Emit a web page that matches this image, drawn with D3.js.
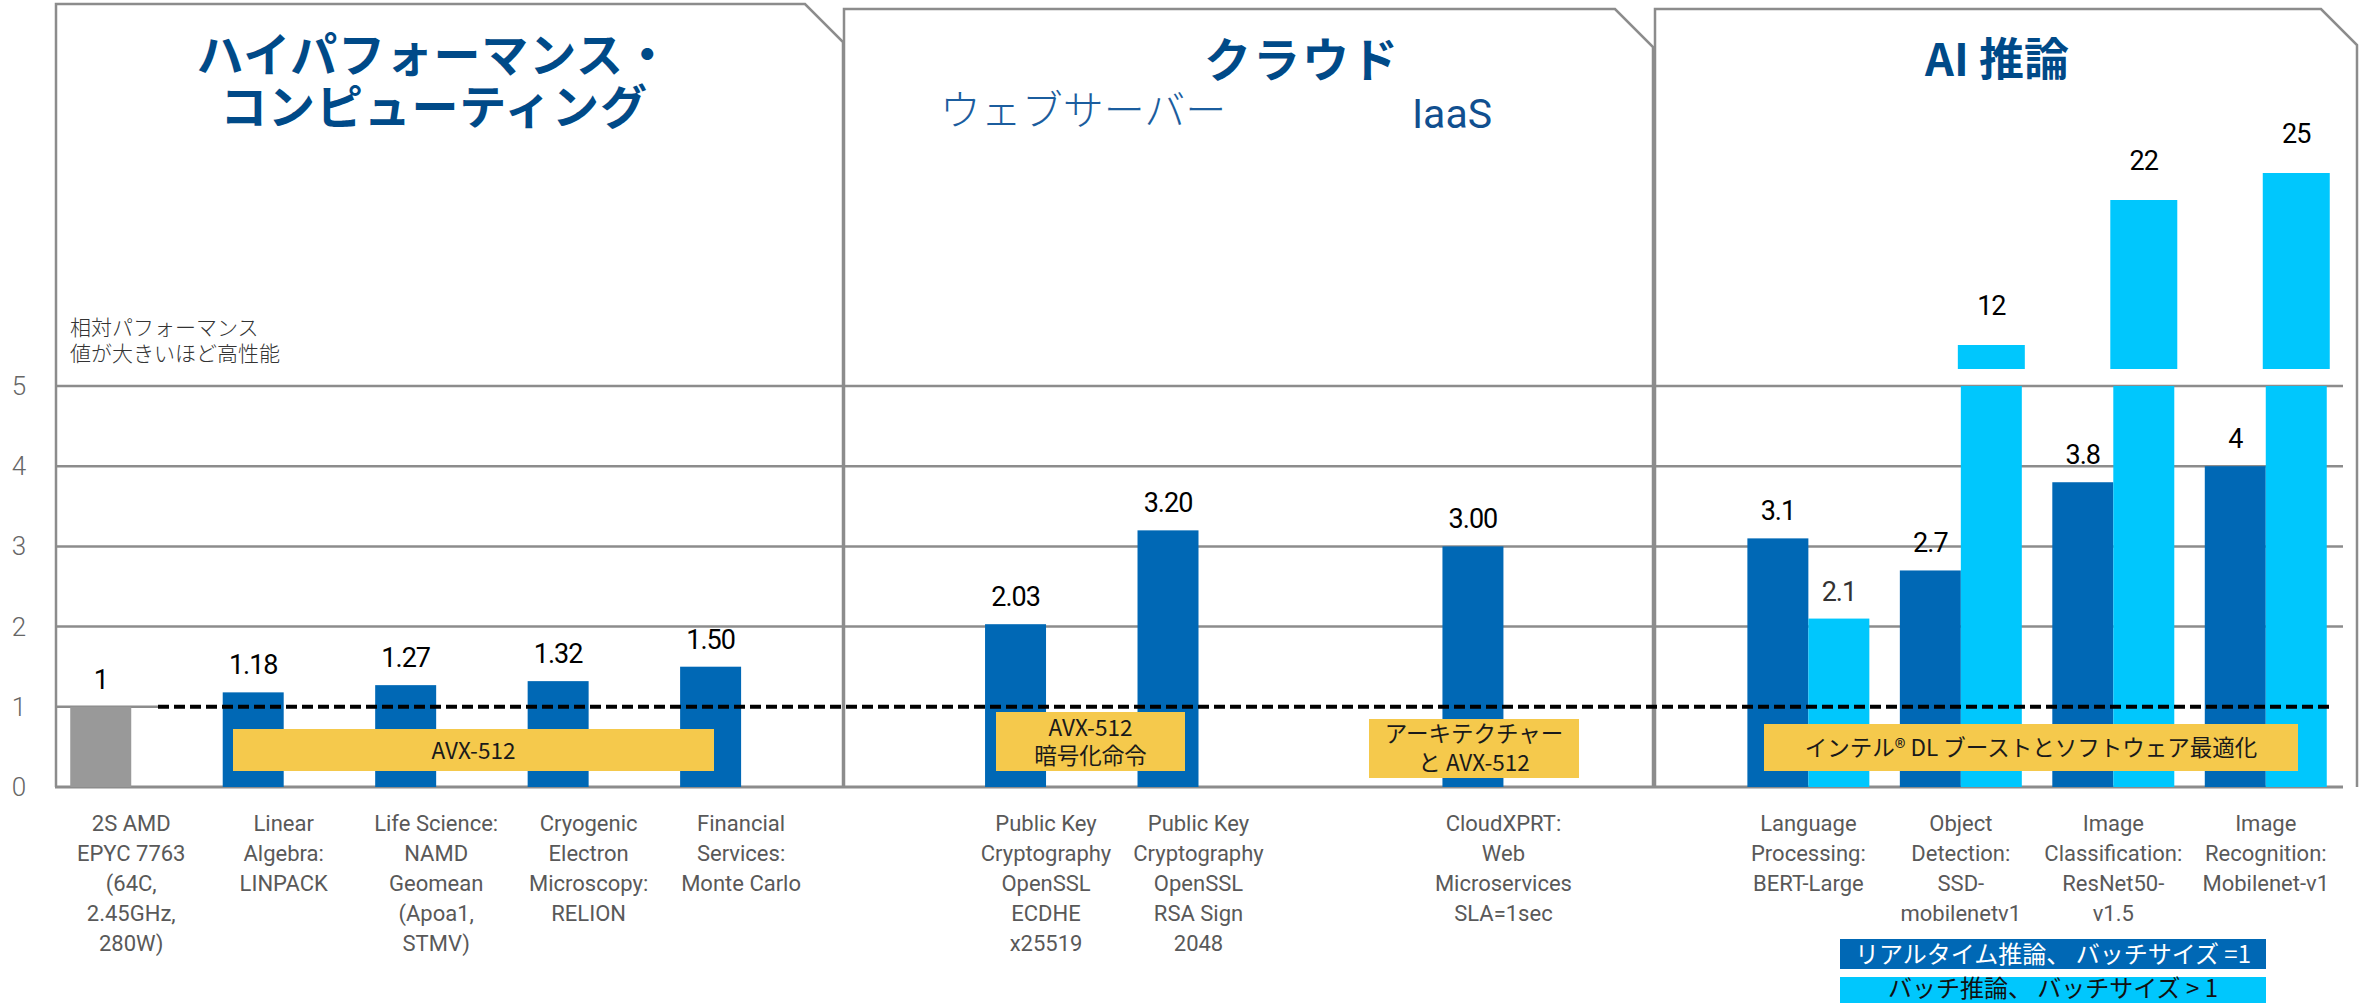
<!DOCTYPE html>
<html>
<head>
<meta charset="utf-8">
<script src="https://cdn.jsdelivr.net/npm/d3@7/dist/d3.min.js"></script>
<style>
    html, body { margin: 0; padding: 0; background: #fff; }
    svg { display: block; }
    text { font-family: Roboto, "Noto Sans CJK JP", sans-serif; }
    .jp { font-family: "Noto Sans CJK JP", Roboto, sans-serif; }
</style>
</head>
<body>
<svg id="chart"></svg>
<script>
// ---- data ----
// x slots (blank slots are the spacing the original chart keeps between groups)
const slots = ["amd", "linpack", "namd", "relion", "montecarlo", "gap1",
    "ecdhe", "rsa", "gap2", "cloudxprt", "gap3",
    "bert", "ssd", "resnet", "mobilenet"];

const categoryLabels = [
    ["2S AMD", "EPYC 7763", "(64C,", "2.45GHz,", "280W)"],
    ["Linear", "Algebra:", "LINPACK"],
    ["Life Science:", "NAMD", "Geomean", "(Apoa1,", "STMV)"],
    ["Cryogenic", "Electron", "Microscopy:", "RELION"],
    ["Financial", "Services:", "Monte Carlo"],
    [],
    ["Public Key", "Cryptography", "OpenSSL", "ECDHE", "x25519"],
    ["Public Key", "Cryptography", "OpenSSL", "RSA Sign", "2048"],
    [],
    ["CloudXPRT:", "Web", "Microservices", "SLA=1sec"],
    [],
    ["Language", "Processing:", "BERT-Large"],
    ["Object", "Detection:", "SSD-", "mobilenetv1"],
    ["Image", "Classification:", "ResNet50-", "v1.5"],
    ["Image", "Recognition:", "Mobilenet-v1"]
];

// リアルタイム推論 / 単体 (dark blue, first is the AMD baseline)
const rtValues = [1, 1.18, 1.27, 1.32, 1.50, null, 2.03, 3.20, null, 3.00, null, 3.1, 2.7, 3.8, 4];
const rtLabels = ["1", "1.18", "1.27", "1.32", "1.50", "", "2.03", "3.20", "", "3.00", "", "3.1", "2.7", "3.8", "4"];
// バッチ推論 (light blue)
const batchValues = [null, null, null, null, null, null, null, null, null, null, null, 2.1, 12, 22, 25];
const batchLabels = ["", "", "", "", "", "", "", "", "", "", "", "2.1", "12", "22", "25"];

const yTicks = [0, 1, 2, 3, 4, 5];
const series = ["rt", "batch"];

const panelTitles = [
    ["ハイパフォーマンス・", "コンピューティング"],
    ["クラウド"],
    ["AI 推論"]
];
const cloudSubtitles = ["ウェブサーバー", "IaaS"];
const noteLines = ["相対パフォーマンス", "値が大きいほど高性能"];
const boxTexts = [
    ["AVX-512"],
    ["AVX-512", "暗号化命令"],
    ["アーキテクチャー", "と AVX-512"],
    ["インテル® DL ブーストとソフトウェア最適化"]
];
const legendItems = ["リアルタイム推論、 バッチサイズ =1", "バッチ推論、 バッチサイズ > 1"];

// ---- colors ----
const DARK = "#0068b5";
const LIGHT = "#00c7fd";
const BASE = "#999999";
const GRID = "#8c8c8c";
const YELLOW = "#f5c94c";
const TITLE = "#004a88";

const width = 2366;
const height = 1003;

const svg = d3.select("#chart")
    .attr("width", width)
    .attr("height", height);

svg.append("rect").attr("width", width).attr("height", height).attr("fill", "#fff");

// ---- scales ----
const x = d3.scaleBand().domain(slots).range([55, 2342]);
const xSub = d3.scaleBand().domain(series).range([0, x.bandwidth()]).paddingOuter(0.25);
const y = d3.scaleLinear().domain([0, 5]).range([787, 386]);
// 軸の切れ目より上の部分（元の図は等間隔ではない）
const yUpper = d3.scaleLinear().domain([12, 22, 25]).range([345, 200, 173]);
const breakBottom = 369;

// ---- panel frames ----
const frames = [
    { x0: 56, x1: 843, top: 4, cut: 38 },
    { x0: 844, x1: 1653, top: 9, cut: 38 },
    { x0: 1655, x1: 2357, top: 9, cut: 36 }
];
svg.append("g").selectAll("path")
    .data(frames)
    .join("path")
    .attr("d", f => `M${f.x0},${y(0)} L${f.x0},${f.top} L${f.x1 - f.cut},${f.top} L${f.x1},${f.top + f.cut} L${f.x1},${y(0)}`)
    .attr("fill", "none")
    .attr("stroke", GRID)
    .attr("stroke-width", 2.5);

// ---- gridlines ----
const dashStart = 158, dashEnd = 2330;
svg.append("g").selectAll("line")
    .data(yTicks)
    .join("line")
    .attr("x1", 55)
    .attr("x2", d => d === 1 ? dashStart : 2343)
    .attr("y1", d => y(d))
    .attr("y2", d => y(d))
    .attr("stroke", GRID)
    .attr("stroke-width", d => d === 0 ? 3 : 2.5);

// y tick labels
svg.append("g").selectAll("text")
    .data(yTicks)
    .join("text")
    .attr("x", 19)
    .attr("y", d => y(d) + 9)
    .attr("text-anchor", "middle")
    .attr("font-size", 26)
    .attr("font-weight", 300)
    .attr("fill", "#666")
    .text(d => d);

// ---- bars ----
const bars = [];
rtValues.forEach((v, i) => {
    if (v != null) bars.push({ slot: slots[i], s: "rt", value: v, label: rtLabels[i], color: i === 0 ? BASE : DARK });
});
batchValues.forEach((v, i) => {
    if (v != null) bars.push({ slot: slots[i], s: "batch", value: v, label: batchLabels[i], color: LIGHT });
});

const barG = svg.append("g");
const maxY = y.domain()[1];

// 下部（0〜5の範囲）
barG.selectAll("rect.low")
    .data(bars)
    .join("rect")
    .attr("class", "low")
    .attr("x", d => x(d.slot) + xSub(d.s))
    .attr("width", xSub.bandwidth())
    .attr("y", d => y(Math.min(d.value, maxY)))
    .attr("height", d => y(0) - y(Math.min(d.value, maxY)))
    .attr("fill", d => d.color);

// 上部（5を超える値）
const tall = bars.filter(d => d.value > maxY);
barG.selectAll("rect.high")
    .data(tall)
    .join("rect")
    .attr("class", "high")
    .attr("x", d => x(d.slot) + xSub(d.s) - 3)
    .attr("width", xSub.bandwidth() + 6)
    .attr("y", d => yUpper(d.value))
    .attr("height", d => breakBottom - yUpper(d.value))
    .attr("fill", d => d.color);

// value labels
svg.append("g").selectAll("text")
    .data(bars)
    .join("text")
    .attr("x", d => x(d.slot) + xSub(d.s) + xSub.bandwidth() / 2)
    .attr("y", d => d.value > maxY ? yUpper(d.value) - 30 : y(d.value) - 18)
    .attr("text-anchor", "middle")
    .attr("font-size", 27)
    .attr("letter-spacing", -1)
    .attr("fill", d => d.label === "2.1" ? "#333" : "#000")
    .text(d => d.label);

// ---- dashed baseline at 1 ----
svg.append("line")
    .attr("x1", dashStart)
    .attr("x2", dashEnd)
    .attr("y1", y(1))
    .attr("y2", y(1))
    .attr("stroke", "#000")
    .attr("stroke-width", 4)
    .attr("stroke-dasharray", "11 5");

// ---- yellow boxes ----
const boxes = [
    { x0: 233, x1: 714, y0: 729, y1: 771, base: [759] },
    { x0: 996, x1: 1185, y0: 712, y1: 771, base: [736, 764] },
    { x0: 1369, x1: 1579, y0: 719, y1: 778, base: [742, 771] },
    { x0: 1764, x1: 2298, y0: 724, y1: 771, base: [756] }
];
const boxG = svg.append("g").selectAll("g")
    .data(boxes)
    .join("g");
boxG.append("rect")
    .attr("x", d => d.x0)
    .attr("y", d => d.y0)
    .attr("width", d => d.x1 - d.x0)
    .attr("height", d => d.y1 - d.y0)
    .attr("fill", YELLOW);
boxG.each(function (d, i) {
    d3.select(this).selectAll("text")
        .data(boxTexts[i])
        .join("text")
        .attr("class", "jp")
        .attr("x", (d.x0 + d.x1) / 2)
        .attr("y", (t, j) => d.base[j])
        .attr("text-anchor", "middle")
        .attr("font-size", 22.5)
        .attr("fill", "#1a1a1a")
        .text(t => t);
});

// ---- category labels ----
const catG = svg.append("g").selectAll("text")
    .data(slots.map((s, i) => ({ slot: s, lines: categoryLabels[i] })).filter(d => d.lines.length))
    .join("text")
    .attr("text-anchor", "middle")
    .attr("font-size", 22)
    .attr("fill", "#595959");
catG.selectAll("tspan")
    .data(d => d.lines.map(l => ({ slot: d.slot, l })))
    .join("tspan")
    .attr("x", d => x(d.slot) + x.bandwidth() / 2)
    .attr("y", (d, j) => 831 + j * 30)
    .text(d => d.l);

// ---- titles ----
const titlePos = [
    { cx: 434, base: [72, 124], size: 47, ls: 0.8 },
    { cx: 1302, base: [77], size: 47, ls: 2 },
    { cx: 1997, base: [76], size: 45, ls: 0 }
];
titlePos.forEach((p, i) => {
    svg.append("g").selectAll("text")
        .data(panelTitles[i])
        .join("text")
        .attr("class", "jp")
        .attr("x", p.cx)
        .attr("y", (t, j) => p.base[j])
        .attr("text-anchor", "middle")
        .attr("font-size", p.size)
        .attr("letter-spacing", p.ls)
        .attr("font-weight", 700)
        .attr("fill", TITLE)
        .text(t => t);
});

svg.append("text")
    .attr("class", "jp")
    .attr("x", 1083).attr("y", 125)
    .attr("text-anchor", "middle")
    .attr("font-size", 41)
    .attr("font-weight", 300)
    .attr("fill", "#1b5d9e")
    .text(cloudSubtitles[0]);
svg.append("text")
    .attr("x", 1452).attr("y", 128)
    .attr("text-anchor", "middle")
    .attr("font-size", 41)
    .attr("fill", "#114f8f")
    .text(cloudSubtitles[1]);

// axis note
svg.append("g").selectAll("text")
    .data(noteLines)
    .join("text")
    .attr("class", "jp")
    .attr("x", 70)
    .attr("y", (t, j) => 335 + j * 26)
    .attr("font-size", 21)
    .attr("font-weight", 300)
    .attr("fill", "#333")
    .text(t => t);

// ---- legend ----
const legendBoxes = [
    { y0: 939, y1: 969, fill: DARK, color: "#fff", base: 963 },
    { y0: 977, y1: 1003, fill: LIGHT, color: "#111", base: 997 }
];
legendBoxes.forEach((b, i) => {
    svg.append("rect")
        .attr("x", 1840).attr("y", b.y0)
        .attr("width", 426).attr("height", b.y1 - b.y0)
        .attr("fill", b.fill);
    svg.append("text")
        .attr("class", "jp")
        .attr("x", 2053).attr("y", b.base)
        .attr("text-anchor", "middle")
        .attr("font-size", 24)
        .attr("fill", b.color)
        .text(legendItems[i]);
});
</script>
</body>
</html>
